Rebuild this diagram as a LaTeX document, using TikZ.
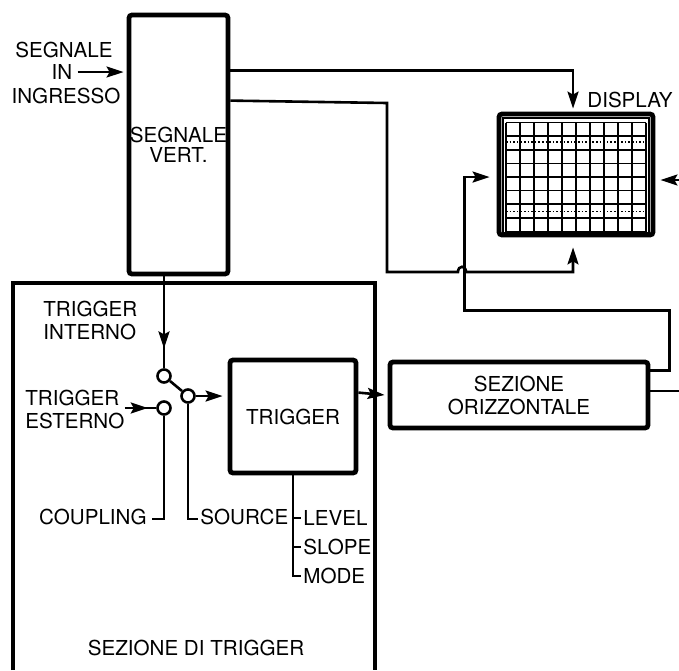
\documentclass[tikz,border=0pt]{standalone}
\usepackage{fontspec}
\setmainfont{TeX Gyre Heros}
\usetikzlibrary{arrows.meta,calc,positioning}

\begin{document}
\begin{tikzpicture}[x=0.5pt,y=-0.5pt,>={Stealth[length=8.5pt,width=5.5pt,inset=1.5pt]},
  font=\fontsize{10.3}{11.5}\selectfont,
  blocco/.style={draw,line width=2.4pt,rounded corners=1.5pt,inner sep=0pt,align=center},
  contatto/.style={draw,circle,fill=white,line width=1.3pt,minimum size=6.5pt,inner sep=0pt},
  etichetta/.style={inner sep=0pt,align=left},
  filo/.style={line width=1.3pt},
  sottile/.style={line width=0.7pt},
  griglia/.style={line width=0.8pt}]
  \useasboundingbox (0,0) rectangle (679,670);
  % blocchi
  \node[blocco,minimum width=49.5pt,minimum height=129.5pt] (vert) at (178.5,144.5) {SEGNALE\\[-1.5pt]VERT.};
  \node[blocco,minimum width=63pt,minimum height=56.5pt] (trigger) at (293,416.5) {TRIGGER};
  \node[blocco,minimum width=129pt,minimum height=33pt] (oriz) at (519,395) {SEZIONE\\ORIZZONTALE};
  \node[blocco,minimum width=77pt,minimum height=60.5pt] (display) at (576,174.5) {};
  % schermo
  \draw[sottile] (503,118) rectangle (649,233);
  \foreach \i in {0,...,10}
    \draw[griglia] ({506+14*\i},122.5) -- ({506+14*\i},231.5);
  \foreach \j in {0,...,8}
    \draw[griglia] (506,{122.5+13.625*\j}) -- (646,{122.5+13.625*\j});
  \draw[line width=1.1pt] (576,122.5) -- (576,231.5);
  \draw[line width=1.1pt] (506,177) -- (646,177);
  \draw[griglia,densely dotted] (506,142) -- (646,142);
  \draw[griglia,densely dotted] (506,211.5) -- (646,211.5);
  % sezione di trigger
  \draw[line width=1.6pt] (13,670) -- (13,283) -- (375,283) -- (375,670);
  % commutatore
  \node[contatto] (cint) at (164,376) {};
  \node[contatto] (cout) at (188,396) {};
  \node[contatto] (cext) at (164,408) {};
  % testi
  \node[etichetta] (segn1) at (64,50) {SEGNALE};
  \node[etichetta] (segn2) at (62,72) {IN};
  \node[etichetta] (segn3) at (66,96) {INGRESSO};
  \node[etichetta,anchor=west] (lbldisplay) at (587,100) {DISPLAY};
  \node[etichetta,anchor=west] (interno) at (43,320) {TRIGGER\\INTERNO};
  \node[etichetta,anchor=west] (esterno) at (25,409) {TRIGGER\\ESTERNO};
  \node[etichetta,anchor=east] (coupling) at (147,517) {COUPLING};
  \node[etichetta,anchor=west] (source) at (200,517) {SOURCE};
  \node[etichetta,anchor=west] (level) at (303,518) {LEVEL};
  \node[etichetta,anchor=west] (slope) at (303,547) {SLOPE};
  \node[etichetta,anchor=west] (mode) at (303,576) {MODE};
  \node[etichetta] (titolo) at (196,648) {SEZIONE DI TRIGGER};
  \coordinate (destra) at (679,180);
  \coordinate (uscita) at (679,391);
  % collegamenti
  \draw[filo,->] ($(segn2.east)+(5,0)$) -- ($(vert.west |- segn2)+(-3,0)$);
  \draw[filo,->] ($(vert.north east)+(0,58)$) -| ($(display.north)+(-3,-3)$);
  \draw[filo,->] ($(vert.north east)+(0,88)$) -- (387,103) -- (387,272) -- (458,272)
    .. controls (458,265) and (466,265) .. (466,272) -| ($(display.south)+(-3,10)$);
  \draw[filo,->] (vert.south -| cint) -- ++(0,72);
  \draw[filo] (vert.south -| cint) -- (cint);
  \draw[filo] (cint) -- (cout);
  \draw[filo,->] (cout) -- ($(trigger.west |- cout)+(-5,0)$);
  \draw[filo,->] (esterno.east |- cext) -- ++(23,0);
  \draw[filo] (esterno.east |- cext) -- (cext);
  \draw[sottile] (cext) |- ($(coupling.east)+(5,2)$);
  \draw[sottile] (cout) |- ($(source.west)+(-2,2)$);
  \draw[sottile] (trigger.south) |- ($(mode.west)+(-2,0)$);
  \draw[sottile] (trigger.south |- level.west) -- ($(level.west)+(-2,0)$);
  \draw[sottile] (trigger.south |- slope.west) -- ($(slope.west)+(-2,0)$);
  \draw[filo,->] ($(trigger.north east)+(0,35)$) -- ($(oriz.west)+(-3,0)$);
  \draw[filo,->] ($(oriz.north east)+(0,11)$) -- ++(19,0) -- ++(0,-60) -- ++(-205,0)
    |- ($(display.west)+(-7,2.5)$);
  \draw[filo] (oriz.east |- uscita) -- (uscita);
  \draw[filo,->] (destra) -- ($(display.east)+(5,5.5)$);
\end{tikzpicture}
\end{document}
